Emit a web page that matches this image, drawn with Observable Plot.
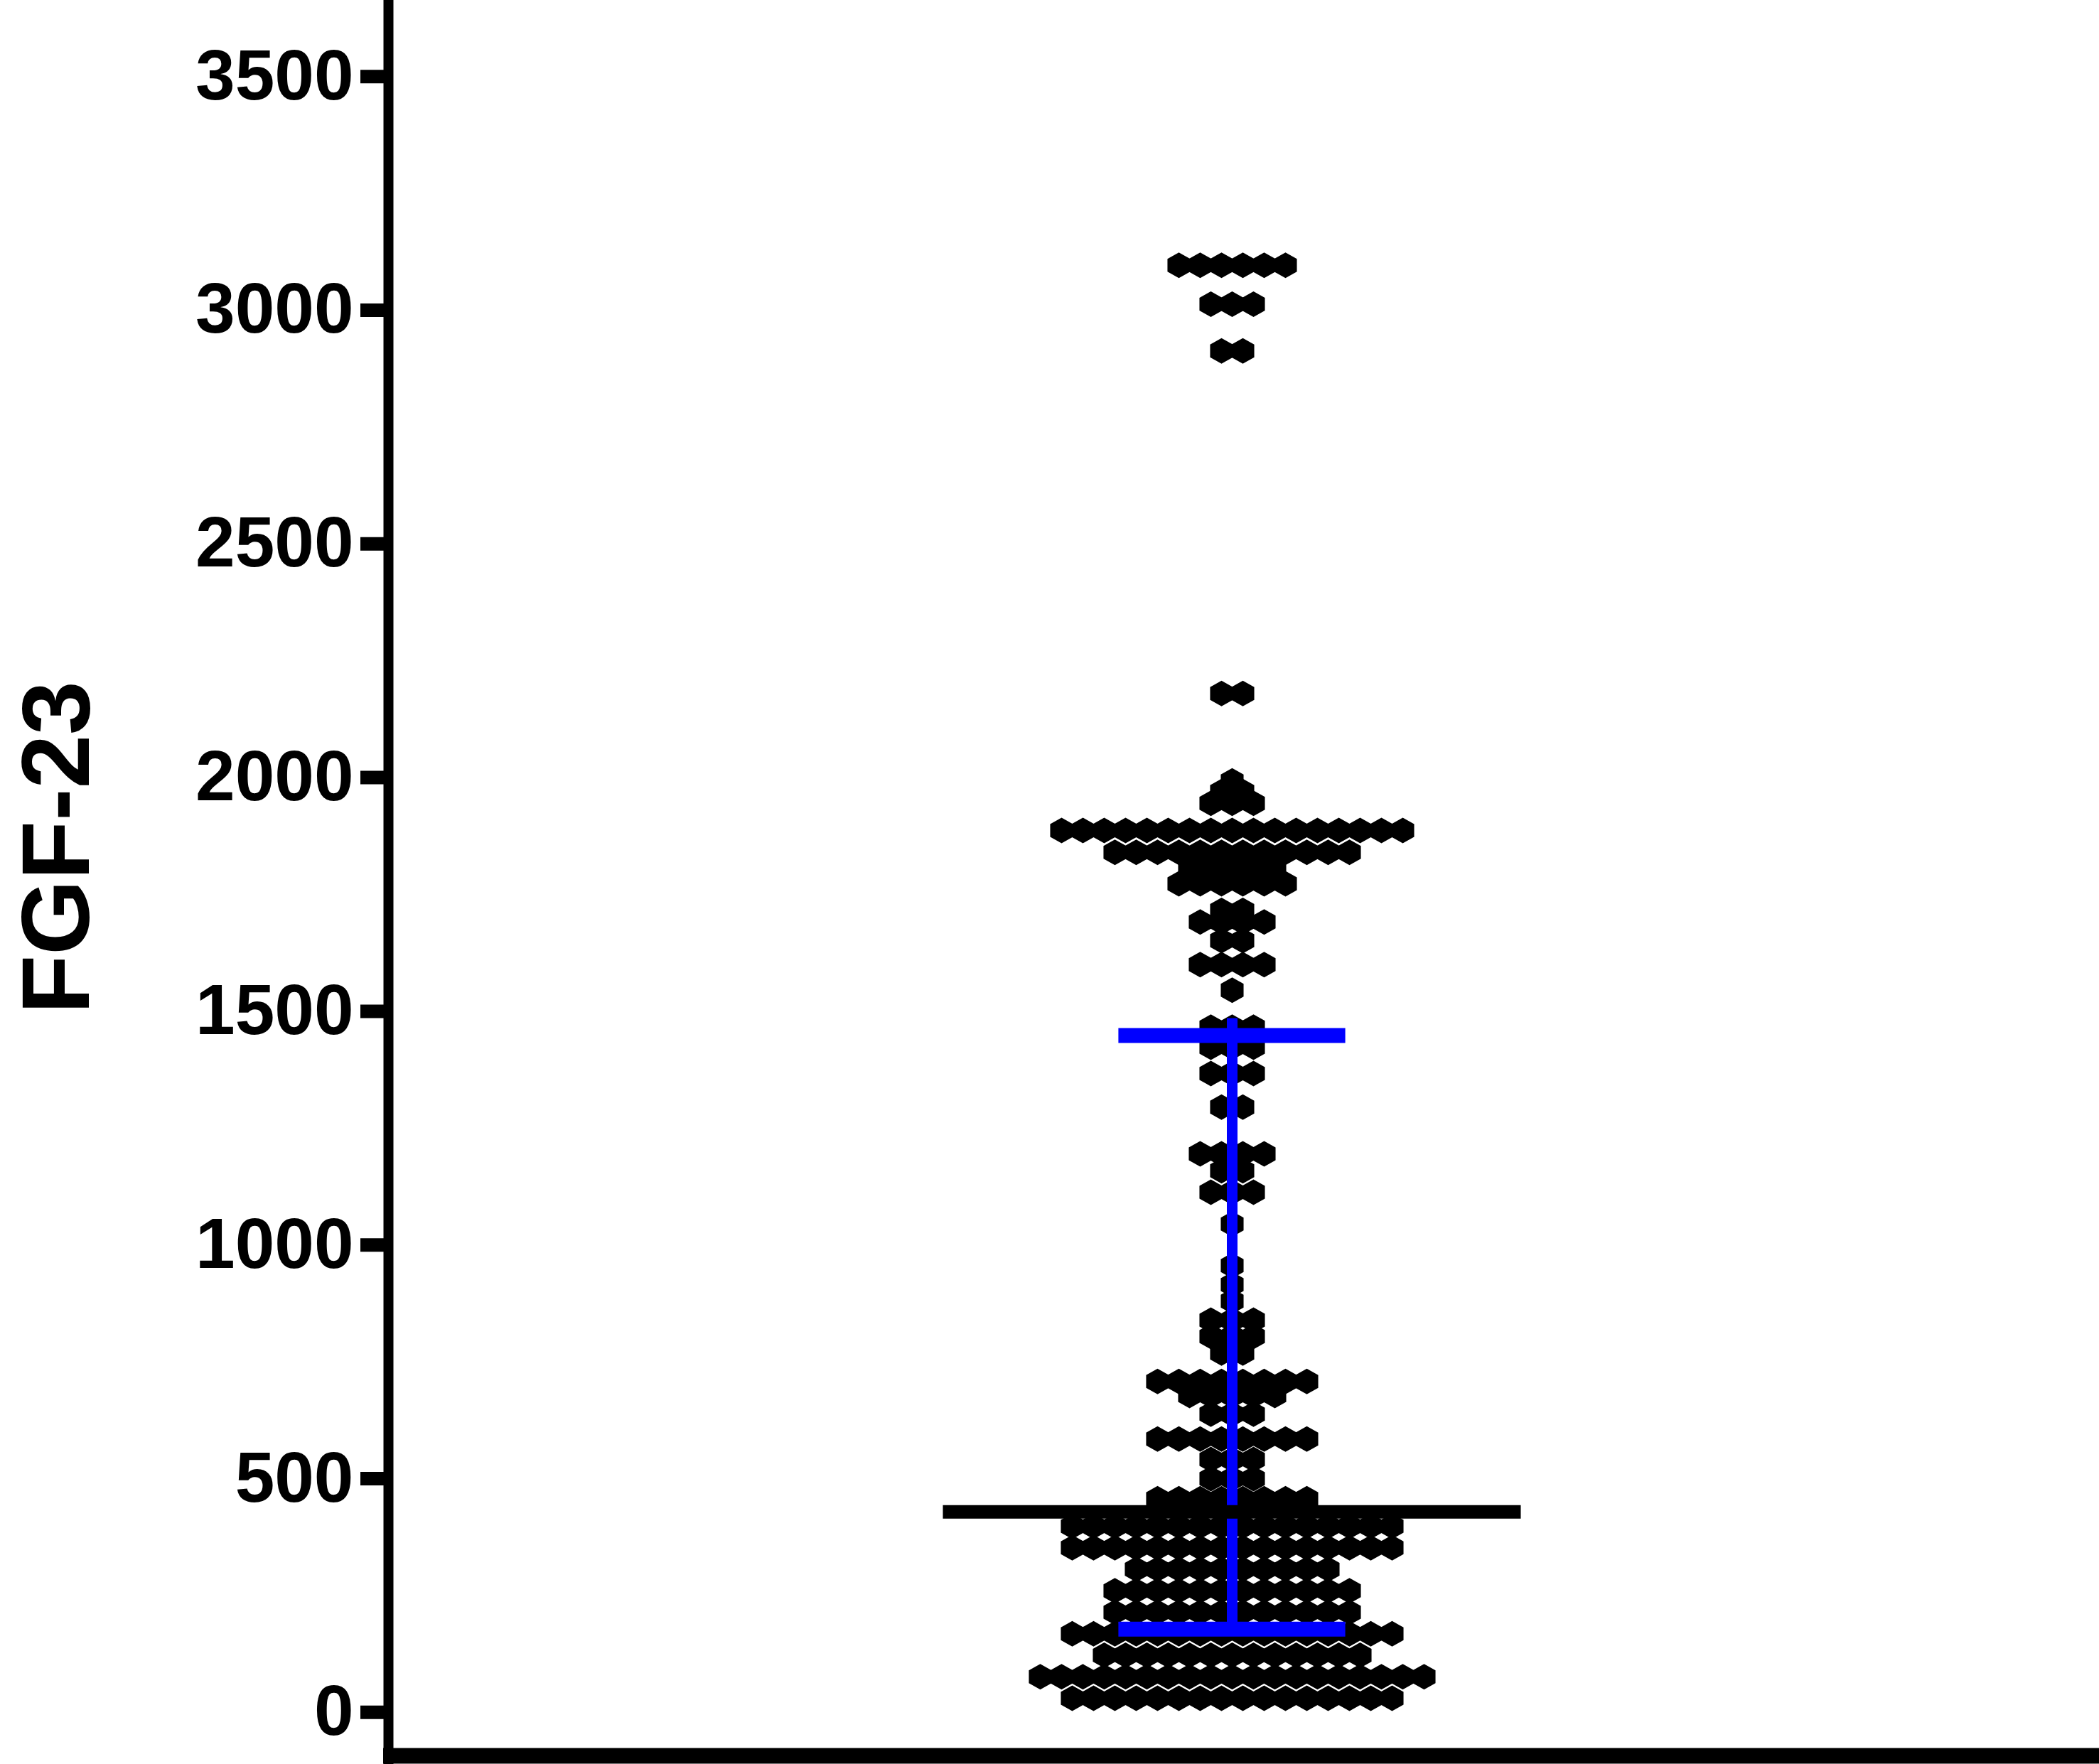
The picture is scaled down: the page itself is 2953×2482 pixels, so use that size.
<!DOCTYPE html>
<html>
<head>
<meta charset="utf-8">
<script src="https://cdn.jsdelivr.net/npm/d3@7"></script>
<script src="https://cdn.jsdelivr.net/npm/@observablehq/plot@0.6"></script>
<style>
  html, body { margin: 0; padding: 0; background: #fff; overflow: hidden; }
</style>
</head>
<body>
<div id="chart"></div>
<script>
// ---- data ----
// FGF-23 values: one entry per horizontal row of the column scatter, with how many points share it
const rowValue = [3096, 3013, 2913, 2180, 1993, 1970, 1945, 1887, 1840, 1808, 1773, 1716, 1691, 1651, 1600, 1545,
                  1466, 1423, 1367, 1295, 1195, 1159, 1113, 1045, 956, 915, 880, 839, 804, 769,
                  708, 678, 638, 585, 541, 500, 457, 398, 352, 306, 260, 214, 168, 122, 76, 30];
const rowCount = [6, 3, 2, 2, 1, 2, 3, 17, 12, 5, 6, 2, 4, 2, 4, 1,
                  3, 3, 3, 2, 4, 2, 3, 1, 1, 1, 1, 3, 3, 2,
                  8, 5, 3, 8, 3, 3, 8, 16, 16, 10, 12, 12, 16, 13, 19, 16];
const medianValue = 429;
const q1Value = 178;
const q3Value = 1448;
const yTicks = [0, 500, 1000, 1500, 2000, 2500, 3000, 3500];
const yLabel = "FGF-23";

// ---- layout / style ----
const W = 2953, H = 2482;
const mLeft = 546, mRight = 33, mTop = 0, mBottom = 12;
const slotPx = 30;                       // horizontal spacing between points in a row
const xHalf = (W - mLeft - mRight) / 2 / slotPx;
const yDomain = [-93, 3663];
const medianHalf = 13.55, capHalf = 5.32; // widths of median line / quartile caps (in slots)
const blue = "#0000ff";

// Prism-style row layout: points of a row side by side, centered
const points = rowValue.flatMap((v, k) =>
  d3.range(rowCount[k]).map(j => ({value: v, slot: j - (rowCount[k] - 1) / 2}))
);

// pointy-top hexagon, a little taller than wide (like the reference markers)
const hexSymbol = {
  draw(context, size) {
    const r = Math.sqrt(size / Math.PI);   // r = 15
    const ry = r * 1.2, rx = r * 1.07, rs = r * 0.6;
    context.moveTo(0, -ry);
    context.lineTo(rx, -rs);
    context.lineTo(rx, rs);
    context.lineTo(0, ry);
    context.lineTo(-rx, rs);
    context.lineTo(-rx, -rs);
    context.closePath();
  }
};

const chart = Plot.plot({
  width: W,
  height: H,
  marginLeft: mLeft,
  marginRight: mRight,
  marginTop: mTop,
  marginBottom: mBottom,
  style: {
    fontFamily: "'Liberation Sans', Arial, Helvetica, sans-serif",
    fontWeight: "bold",
    fontSize: "100px",
    background: "#ffffff",
    color: "#000000"
  },
  x: {domain: [-xHalf, xHalf], axis: null},
  y: {domain: yDomain, axis: null},
  marks: [
    Plot.dot(points, {x: "slot", y: "value", r: 15, symbol: hexSymbol, fill: "#000", stroke: "none"}),
    // interquartile range (blue)
    Plot.ruleX([0], {y1: medianValue, y2: q3Value, stroke: blue, strokeWidth: 15, insetBottom: 24}),
    Plot.ruleX([0], {y1: q1Value, y2: medianValue, stroke: blue, strokeWidth: 15}),
    Plot.ruleY([q1Value, q3Value], {x1: -capHalf, x2: capHalf, stroke: blue, strokeWidth: 21}),
    // median
    Plot.ruleY([medianValue], {x1: -medianHalf, x2: medianHalf, stroke: "#000", strokeWidth: 19}),
    // axis lines
    Plot.ruleX([-xHalf], {stroke: "#000", strokeWidth: 14, insetBottom: -12}),
    Plot.ruleY([yDomain[0]], {stroke: "#000", strokeWidth: 22, insetLeft: -7, insetRight: -40}),
    Plot.axisY({
      ticks: yTicks,
      tickSize: 39,
      tickPadding: 10,
      strokeWidth: 19,
      tickFormat: d => String(d),
      fontSize: 100,
      fontWeight: "bold",
      label: null
    }),
    Plot.text([yLabel], {
      frameAnchor: "left",
      rotate: -90,
      textAnchor: "middle",
      lineAnchor: "bottom",
      dx: 124 - mLeft,
      dy: 1192 - (mTop + H - mBottom) / 2,
      fontSize: 136,
      fontWeight: "bold",
      fill: "#000"
    })
  ]
});

document.getElementById("chart").appendChild(chart);
</script>
</body>
</html>
